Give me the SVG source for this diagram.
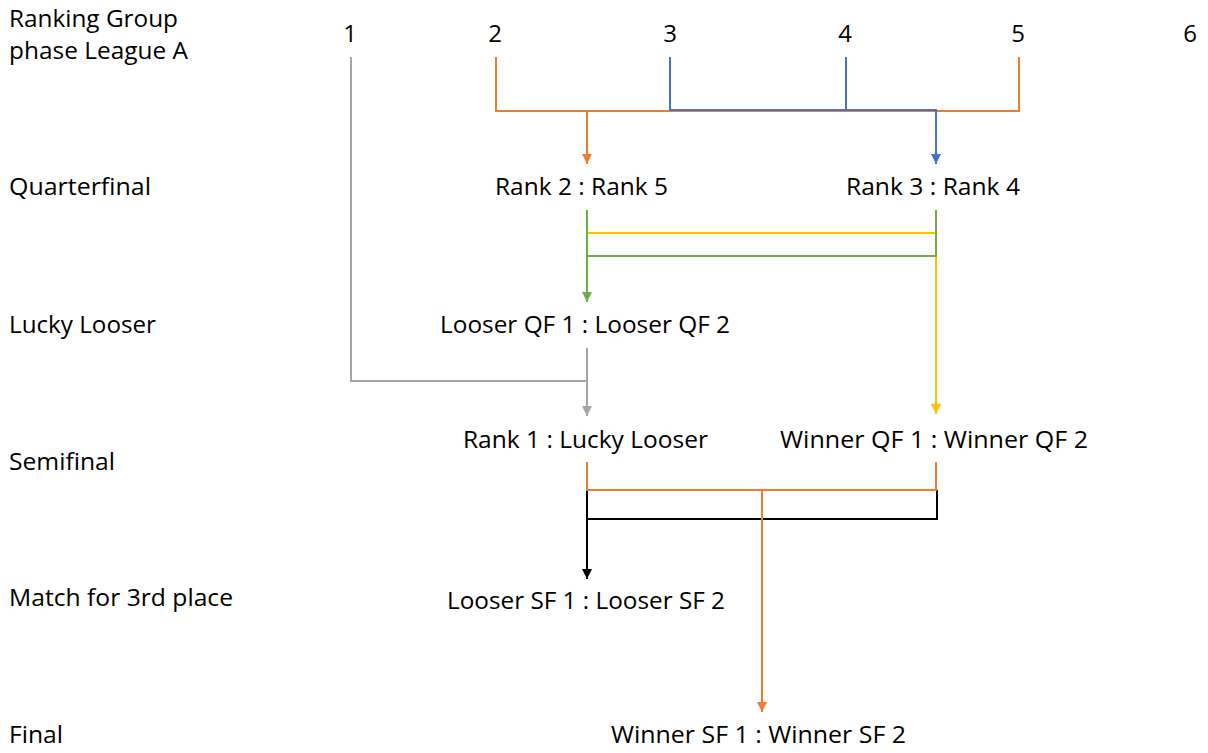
<svg xmlns="http://www.w3.org/2000/svg" width="1208" height="753" viewBox="0 0 1208 753">
<style>
text{font-family:"Open Sans","Liberation Sans",sans-serif;font-size:24px;fill:#000}
.num{text-anchor:middle}
.c{fill:none;stroke-width:2;stroke-linejoin:miter}
.or{stroke:#ED7D31}.bl{stroke:#4472C4}.gr{stroke:#A5A5A5}.ye{stroke:#FFC000}.gn{stroke:#70AD47}.bk{stroke:#000}
</style>
<defs>
<marker id="aor" markerUnits="userSpaceOnUse" markerWidth="10" markerHeight="10" refX="10" refY="5" orient="auto"><path d="M0,0 L10,5 L0,10z" fill="#ED7D31"/></marker>
<marker id="abl" markerUnits="userSpaceOnUse" markerWidth="10" markerHeight="10" refX="10" refY="5" orient="auto"><path d="M0,0 L10,5 L0,10z" fill="#4472C4"/></marker>
<marker id="agr" markerUnits="userSpaceOnUse" markerWidth="10" markerHeight="10" refX="10" refY="5" orient="auto"><path d="M0,0 L10,5 L0,10z" fill="#A5A5A5"/></marker>
<marker id="aye" markerUnits="userSpaceOnUse" markerWidth="10" markerHeight="10" refX="10" refY="5" orient="auto"><path d="M0,0 L10,5 L0,10z" fill="#FFC000"/></marker>
<marker id="agn" markerUnits="userSpaceOnUse" markerWidth="10" markerHeight="10" refX="10" refY="5" orient="auto"><path d="M0,0 L10,5 L0,10z" fill="#70AD47"/></marker>
<marker id="abk" markerUnits="userSpaceOnUse" markerWidth="10" markerHeight="10" refX="10" refY="5" orient="auto"><path d="M0,0 L10,5 L0,10z" fill="#000"/></marker>
</defs>
<rect width="1208" height="753" fill="#fff"/>
<g id="stage-labels">
<text x="9" y="27" textLength="169" lengthAdjust="spacingAndGlyphs">Ranking Group</text>
<text x="9" y="59" textLength="179" lengthAdjust="spacingAndGlyphs">phase League A</text>
<text x="9" y="195" textLength="142" lengthAdjust="spacingAndGlyphs">Quarterfinal</text>
<text x="9" y="333" textLength="147" lengthAdjust="spacingAndGlyphs">Lucky Looser</text>
<text x="9" y="470" textLength="106" lengthAdjust="spacingAndGlyphs">Semifinal</text>
<text x="9" y="606" textLength="224" lengthAdjust="spacingAndGlyphs">Match for 3rd place</text>
<text x="9" y="743" textLength="54" lengthAdjust="spacingAndGlyphs">Final</text>
</g>
<g id="ranks">
<text class="num" x="350" y="42">1</text>
<text class="num" x="495" y="42">2</text>
<text class="num" x="670" y="42">3</text>
<text class="num" x="845" y="42">4</text>
<text class="num" x="1018" y="42">5</text>
<text class="num" x="1190" y="42">6</text>
</g>
<g id="connectors">
<polyline class="c or" points="496,57 496,111 1019,111 1019,57"/>
<polyline class="c or" points="587,111 587,164" marker-end="url(#aor)"/>
<polyline class="c bl" points="670,57 670,110 936,110 936,164" marker-end="url(#abl)"/>
<polyline class="c bl" points="846,57 846,110"/>
<polyline class="c ye" points="587,233 936,233 936,414" marker-end="url(#aye)"/>
<polyline class="c gn" points="936,210 936,256 587,256"/>
<polyline class="c gn" points="587,210 587,302" marker-end="url(#agn)"/>
<polyline class="c gr" points="351,57 351,381 587,381"/>
<polyline class="c gr" points="587,348 587,416" marker-end="url(#agr)"/>
<polyline class="c bk" points="937,490 937,519 587,519"/>
<polyline class="c bk" points="587,490 587,579" marker-end="url(#abk)"/>
<polyline class="c or" points="587,462 587,490 936,490 936,462"/>
<polyline class="c or" points="762,490 762,712" marker-end="url(#aor)"/>
</g>
<g id="qf1"><text x="495" y="195" textLength="173" lengthAdjust="spacingAndGlyphs">Rank 2 : Rank 5</text></g>
<g id="qf2"><text x="846" y="195" textLength="174" lengthAdjust="spacingAndGlyphs">Rank 3 : Rank 4</text></g>
<g id="lucky"><text x="440" y="333" textLength="290" lengthAdjust="spacingAndGlyphs">Looser QF 1 : Looser QF 2</text></g>
<g id="sf1"><text x="463" y="448" textLength="245" lengthAdjust="spacingAndGlyphs">Rank 1 : Lucky Looser</text></g>
<g id="sf2"><text x="780" y="448" textLength="308" lengthAdjust="spacingAndGlyphs">Winner QF 1 : Winner QF 2</text></g>
<g id="third"><text x="447" y="609" textLength="278" lengthAdjust="spacingAndGlyphs">Looser SF 1 : Looser SF 2</text></g>
<g id="final"><text x="611" y="743" textLength="295" lengthAdjust="spacingAndGlyphs">Winner SF 1 : Winner SF 2</text></g>
</svg>
